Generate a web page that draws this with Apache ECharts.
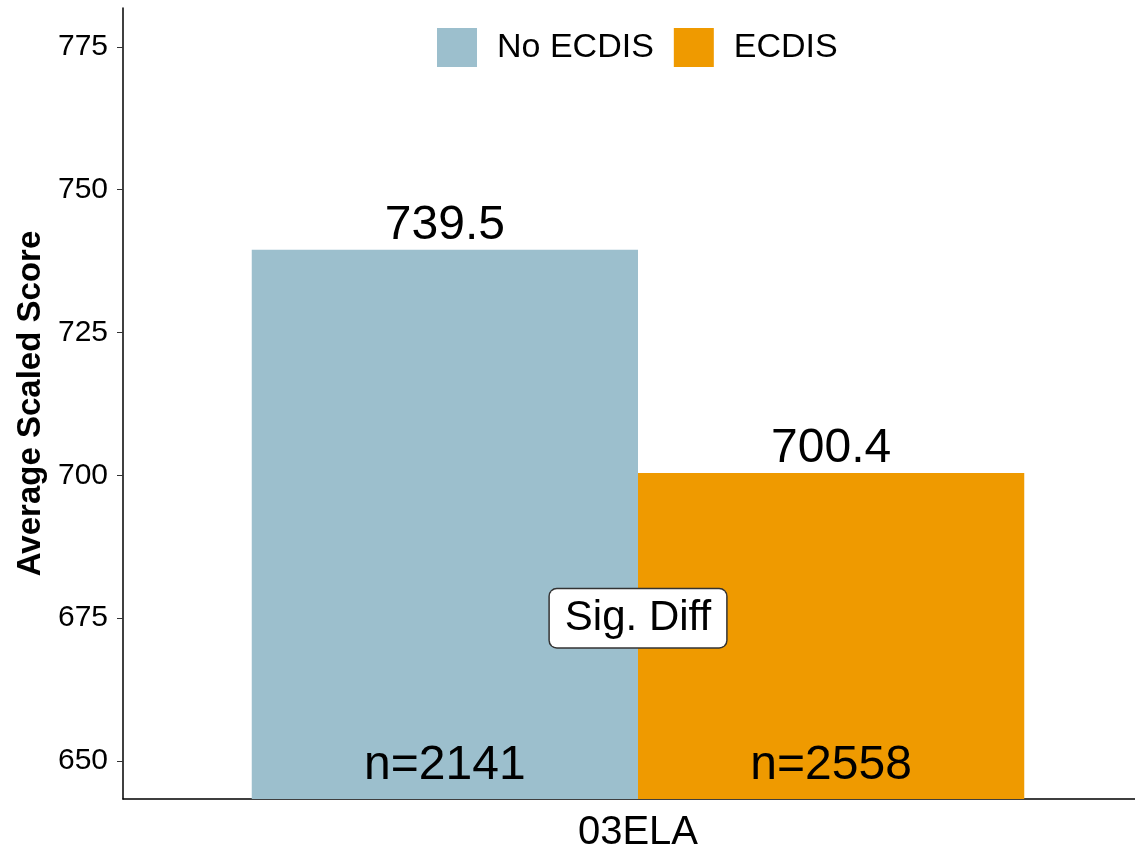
<!DOCTYPE html>
<html>
<head>
<meta charset="utf-8">
<script src="https://cdn.jsdelivr.net/npm/echarts@6/dist/echarts.min.js"></script>
<style>
html,body{margin:0;padding:0;background:#fff;}
#chart{width:1135px;height:851px;}
</style>
</head>
<body>
<div id="chart"></div>
<script>
// ---- data ----
var categories = ['03ELA'];
var groups = ['No ECDIS', 'ECDIS'];
var scores = [739.5, 700.4];
var counts = [2141, 2558];
var sigText = 'Sig. Diff';
var sigValue = 675;
var yTicks = [650, 675, 700, 725, 750, 775];
var yMin = 643.35, yMax = 781.8;

var colors = ['#9cbfcd', '#ef9a00'];
var FONT = '"Liberation Sans", Arial, sans-serif';

var chart = echarts.init(document.getElementById('chart'), null, {renderer: 'canvas'});

function makeRender(g) {
  return function (params, api) {
    var cat = api.value(0), val = api.value(1), n = api.value(2);
    var center = api.coord([cat, val]);
    var base = api.coord([cat, yMin]);
    var band = api.size([1, 0])[0];
    var barW = band * 0.375;
    var x0 = center[0] - barW + g * barW;
    return {
      type: 'group',
      children: [
        {type: 'rect', shape: {x: x0, y: center[1], width: barW, height: base[1] - center[1]},
         style: {fill: colors[g]}},
        {type: 'text', x: x0 + barW / 2, y: center[1],
         style: {text: val.toFixed(1), fill: '#000', font: '48px ' + FONT, align: 'center', verticalAlign: 'bottom'}},
        {type: 'text', x: x0 + barW / 2, y: base[1] - 9,
         style: {text: 'n=' + n, fill: '#000', font: '48px ' + FONT, align: 'center', verticalAlign: 'bottom'}}
      ]
    };
  };
}

var series = groups.map(function (name, g) {
  return {
    type: 'custom',
    name: name,
    itemStyle: {color: colors[g]},
    renderItem: makeRender(g),
    encode: {x: 0, y: 1},
    data: categories.map(function (c, i) { return [i, scores[g], counts[g]]; }),
    z: 2
  };
});
series.push({
  type: 'custom',
  name: 'sig',
  renderItem: function (params, api) {
    var p = api.coord([api.value(0), api.value(1)]);
    return {
      type: 'text', x: p[0], y: p[1], z2: 10,
      style: {text: sigText, fill: '#000', font: '42px ' + FONT, align: 'center', verticalAlign: 'middle',
        backgroundColor: '#fff', borderColor: '#333', borderWidth: 1.5, borderRadius: 7,
        padding: [8, 15, 8, 15], lineHeight: 42}
    };
  },
  encode: {x: 0, y: 1},
  data: [[0, sigValue]],
  z: 5
});

chart.setOption({
  animation: false,
  backgroundColor: '#fff',
  textStyle: {fontFamily: FONT},
  legend: {
    data: groups,
    icon: 'rect',
    left: 437, top: 28, padding: 0,
    itemWidth: 40, itemHeight: 39, itemGap: 20,
    textStyle: {fontSize: 34, color: '#000', fontFamily: FONT, padding: [0, 0, 0, 15]}
  },
  grid: {left: 123, top: 8, width: 1030, bottom: 52, containLabel: false, outerBoundsMode: 'none'},
  xAxis: {
    type: 'category',
    data: categories,
    boundaryGap: true,
    axisLine: {lineStyle: {color: '#000', width: 1.5}},
    axisTick: {alignWithLabel: true, length: 6, lineStyle: {color: '#333'}},
    axisLabel: {fontSize: 40, color: '#000', margin: 14, fontFamily: FONT},
    splitLine: {show: false}
  },
  yAxis: {
    type: 'value',
    min: yMin, max: yMax,
    name: 'Average Scaled Score',
    nameLocation: 'middle',
    nameRotate: 90,
    nameGap: 70,
    nameTextStyle: {fontSize: 33, fontWeight: 'bold', color: '#000', fontFamily: FONT},
    axisLine: {show: true, lineStyle: {color: '#000', width: 1.5}},
    axisTick: {show: true, length: 6, lineStyle: {color: '#333'}, customValues: yTicks},
    axisLabel: {fontSize: 30, color: '#000', margin: 15, fontFamily: FONT, customValues: yTicks},
    splitLine: {show: false}
  },
  series: series
});
</script>
</body>
</html>
